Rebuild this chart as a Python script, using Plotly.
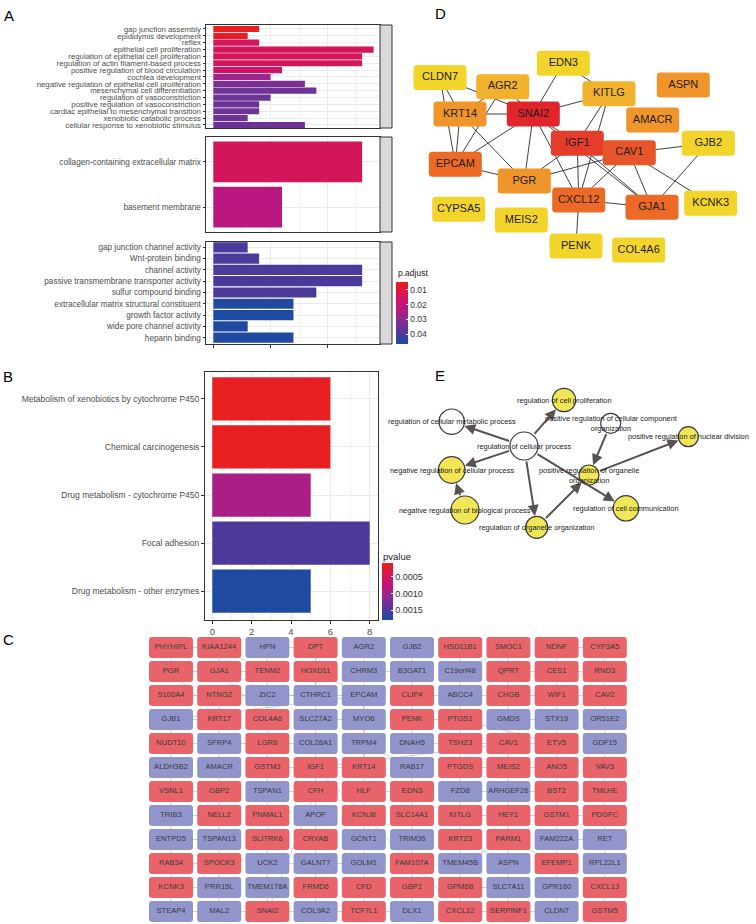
import plotly.graph_objects as go
from plotly.colors import sample_colorscale

W, H = 756, 924
FONT = "Liberation Sans, Arial, sans-serif"

# ---------------- Panel A : GO enrichment ----------------
bp_terms = ["gap junction assembly", "epididymis development", "reflex",
            "epithelial cell proliferation", "regulation of epithelial cell proliferation",
            "regulation of actin filament-based process", "positive regulation of blood circulation",
            "cochlea development", "negative regulation of epithelial cell proliferation",
            "mesenchymal cell differentiation", "regulation of vasoconstriction",
            "positive regulation of vasoconstriction", "cardiac epithelial to mesenchymal transition",
            "xenobiotic catabolic process", "cellular response to xenobiotic stimulus"]
bp_count = [4, 3, 4, 14, 13, 13, 6, 5, 8, 9, 5, 4, 4, 3, 8]
bp_padj = [0.005, 0.006, 0.0148, 0.0148, 0.0148, 0.0148, 0.0165, 0.0278, 0.0328,
           0.035, 0.035, 0.035, 0.035, 0.035, 0.035]

cc_terms = ["collagen-containing extracellular matrix", "basement membrane"]
cc_count = [13, 6]
cc_padj = [0.0148, 0.0223]

mf_terms = ["gap junction channel activity", "Wnt-protein binding", "channel activity",
            "passive transmembrane transporter activity", "sulfur compound binding",
            "extracellular matrix structural constituent", "growth factor activity",
            "wide pore channel activity", "heparin binding"]
mf_count = [3, 4, 13, 13, 9, 7, 7, 3, 7]
mf_padj = [0.040, 0.040, 0.040, 0.040, 0.040, 0.0467, 0.0467, 0.0467, 0.0467]

padj_ticks = [0.01, 0.02, 0.03, 0.04]
padj_range = [0.0047, 0.0467]

# ---------------- Panel B : KEGG ----------------
kegg_terms = ["Metabolism of xenobiotics by cytochrome P450", "Chemical carcinogenesis",
              "Drug metabolism - cytochrome P450", "Focal adhesion",
              "Drug metabolism - other enzymes"]
kegg_count = [6, 6, 5, 8, 5]
kegg_pvalue = [0.0001, 0.0001, 0.00091, 0.00151, 0.0018]
pval_ticks = [0.0005, 0.0010, 0.0015]
pval_ticktext = ["0.0005", "0.0010", "0.0015"]
pval_range = [0.00008, 0.0018]

# ---------------- Panel C : gene network grid ----------------
c_genes = [
    ["PHYHIPL", "KIAA1244", "HPN", "DPT", "AGR2", "GJB2", "HSD11B1", "SMOC1", "NDNF", "CYP3A5"],
    ["PGR", "GJA1", "TENM2", "HOXD11", "CHRM3", "B3GAT1", "C19orf48", "QPRT", "CES1", "RND3"],
    ["S100A4", "NTNG2", "ZIC2", "CTHRC1", "EPCAM", "CLIP4", "ABCC4", "CHGB", "WIF1", "CAV2"],
    ["GJB1", "KRT17", "COL4A6", "SLC27A2", "MYO6", "PENK", "PTGS1", "GMDS", "STX19", "OR51E2"],
    ["NUDT10", "SFRP4", "LGR6", "COL28A1", "TRPM4", "DNAH5", "TSHZ3", "CAV1", "ETV5", "GDF15"],
    ["ALDH3B2", "AMACR", "GSTM3", "IGF1", "KRT14", "RAB17", "PTGDS", "MEIS2", "ANO5", "VAV3"],
    ["VSNL1", "GBP2", "TSPAN1", "CFH", "HLF", "EDN3", "FZD8", "ARHGEF26", "BST2", "TMLHE"],
    ["TRIB3", "NELL2", "PNMAL1", "APOF", "KCNJ8", "SLC14A1", "KITLG", "HEY1", "GSTM1", "PDGFC"],
    ["ENTPD5", "TSPAN13", "SLITRK6", "CRYAB", "GCNT1", "TRIM36", "KRT23", "PARM1", "FAM222A", "RET"],
    ["RAB34", "SPOCK3", "UCK2", "GALNT7", "GOLM1", "FAM107A", "TMEM45B", "ASPN", "EFEMP1", "RPL22L1"],
    ["KCNK3", "PRR15L", "TMEM178A", "FRMD6", "CFD", "GBP1", "GPM6B", "SLC7A11", "GPR160", "CXCL13"],
    ["STEAP4", "MAL2", "SNAI2", "COL9A2", "TCF7L1", "DLX1", "CXCL12", "SERPINF1", "CLDN7", "GSTM5"],
]
c_regulation = [
    "UUDUDDUUUU", "UUUUDDDUUU", "UUDDDUDUUU", "DUUDDUUDDD", "UDUDDDUUUD", "DDUUUDUUUU",
    "UUDUUUDDUU", "DUUDUUUUUU", "DDUUDDUUDD", "UUDDDUDDUD", "UDDUUUUDDU", "DDUDUDUUDU",
]
c_edges = [
    ("PHYHIPL", "PGR"), ("KIAA1244", "GJA1"), ("KIAA1244", "TENM2"), ("HPN", "TENM2"), ("DPT", "HOXD11"),
    ("AGR2", "CHRM3"), ("GJB2", "B3GAT1"), ("HSD11B1", "C19orf48"), ("SMOC1", "QPRT"), ("SMOC1", "C19orf48"),
    ("NDNF", "CES1"), ("CYP3A5", "RND3"), ("NDNF", "CYP3A5"), ("PGR", "GJA1"), ("GJA1", "TENM2"),
    ("TENM2", "ZIC2"), ("HOXD11", "CTHRC1"), ("CHRM3", "EPCAM"), ("B3GAT1", "CLIP4"), ("C19orf48", "ABCC4"),
    ("QPRT", "CHGB"), ("CES1", "WIF1"), ("RND3", "CAV2"), ("S100A4", "NTNG2"), ("NTNG2", "KRT17"),
    ("ZIC2", "COL4A6"), ("CTHRC1", "SLC27A2"), ("EPCAM", "MYO6"), ("CLIP4", "PENK"), ("ABCC4", "PTGS1"),
    ("CHGB", "GMDS"), ("WIF1", "STX19"), ("CAV2", "OR51E2"), ("GJB1", "KRT17"), ("KRT17", "SFRP4"),
    ("COL4A6", "LGR6"), ("SLC27A2", "COL28A1"), ("MYO6", "TRPM4"), ("PENK", "DNAH5"), ("PTGS1", "TSHZ3"),
    ("GMDS", "CAV1"), ("STX19", "ETV5"), ("OR51E2", "GDF15"), ("S100A4", "CTHRC1"), ("GJB1", "EPCAM"),
    ("NUDT10", "ALDH3B2"), ("SFRP4", "AMACR"), ("LGR6", "GSTM3"), ("COL28A1", "IGF1"), ("TRPM4", "KRT14"),
    ("DNAH5", "RAB17"), ("TSHZ3", "PTGDS"), ("CAV1", "MEIS2"), ("ETV5", "ANO5"), ("GDF15", "VAV3"),
    ("ABCC4", "CAV2"), ("PTGS1", "ETV5"), ("ALDH3B2", "VSNL1"), ("AMACR", "GBP2"), ("GSTM3", "TSPAN1"),
    ("IGF1", "CFH"), ("KRT14", "HLF"), ("RAB17", "EDN3"), ("PTGDS", "FZD8"), ("MEIS2", "ARHGEF26"),
    ("ANO5", "BST2"), ("VAV3", "TMLHE"), ("VSNL1", "TRIB3"), ("GBP2", "NELL2"), ("TSPAN1", "PNMAL1"),
    ("CFH", "APOF"), ("HLF", "KCNJ8"), ("EDN3", "SLC14A1"), ("FZD8", "KITLG"), ("ARHGEF26", "HEY1"),
    ("BST2", "GSTM1"), ("TMLHE", "PDGFC"), ("TRIB3", "ENTPD5"), ("NELL2", "TSPAN13"), ("PNMAL1", "SLITRK6"),
    ("APOF", "CRYAB"), ("KCNJ8", "GCNT1"), ("SLC14A1", "TRIM36"), ("KITLG", "KRT23"), ("HEY1", "PARM1"),
    ("GSTM1", "FAM222A"), ("PDGFC", "RET"), ("ENTPD5", "RAB34"), ("TSPAN13", "SPOCK3"), ("SLITRK6", "UCK2"),
    ("CRYAB", "GALNT7"), ("GCNT1", "GOLM1"), ("TRIM36", "FAM107A"), ("KRT23", "TMEM45B"), ("PARM1", "ASPN"),
    ("FAM222A", "EFEMP1"), ("RET", "RPL22L1"), ("RAB34", "KCNK3"), ("SPOCK3", "PRR15L"), ("UCK2", "TMEM178A"),
    ("GALNT7", "FRMD6"), ("GOLM1", "CFD"), ("FAM107A", "GBP1"), ("TMEM45B", "GPM6B"), ("ASPN", "SLC7A11"),
    ("EFEMP1", "GPR160"), ("RPL22L1", "CXCL13"), ("KCNK3", "STEAP4"), ("PRR15L", "MAL2"), ("TMEM178A", "SNAI2"),
    ("FRMD6", "COL9A2"), ("CFD", "TCF7L1"), ("GBP1", "DLX1"), ("GPM6B", "CXCL12"), ("SLC7A11", "SERPINF1"),
    ("GPR160", "CLDN7"), ("CXCL13", "GSTM5"), ("VSNL1", "GBP2"), ("TSPAN1", "CFH"), ("HLF", "EDN3"),
    ("ENTPD5", "TSPAN13"), ("RAB34", "SPOCK3"), ("UCK2", "GALNT7"), ("GALNT7", "GOLM1"), ("KCNK3", "PRR15L"),
    ("STEAP4", "MAL2"), ("MAL2", "SNAI2"), ("SNAI2", "COL9A2"), ("COL9A2", "TCF7L1"), ("TCF7L1", "DLX1"),
    ("CXCL12", "SERPINF1"), ("SERPINF1", "CLDN7"), ("KITLG", "HEY1"), ("HEY1", "GSTM1"), ("GSTM1", "PDGFC"),
    ("PTGDS", "MEIS2"), ("MEIS2", "ANO5"), ("TRIB3", "NELL2"), ("IGF1", "KRT14"), ("GSTM3", "IGF1"),
    ("DNAH5", "TSHZ3"), ("TSHZ3", "CAV1"), ("CAV1", "ETV5"), ("SFRP4", "LGR6"), ("LGR6", "COL28A1"),
    ("CHRM3", "B3GAT1"), ("QPRT", "CES1"), ("CES1", "RND3"), ("HPN", "DPT"), ("PHYHIPL", "KIAA1244"),
    ("GJA1", "COL4A6"), ("SLC27A2", "MYO6"), ("PENK", "PTGS1"), ("GMDS", "STX19"), ("CTHRC1", "EPCAM"),
    ("EPCAM", "KRT14"), ("CAV1", "IGF1"), ("CXCL12", "IGF1"), ("SNAI2", "CFH"), ("KRT23", "ASPN"),
    ("GPM6B", "SLC7A11"), ("FAM222A", "RET"), ("PARM1", "EFEMP1"), ("TMEM45B", "PARM1"), ("ARHGEF26", "BST2"),
    ("FZD8", "ARHGEF26"), ("NUDT10", "SFRP4"), ("GJB1", "NUDT10"), ("ZIC2", "CTHRC1"), ("PGR", "KRT17"),
    ("DPT", "CTHRC1"), ("HOXD11", "EPCAM"), ("CLIP4", "ABCC4"), ("TRPM4", "RAB17"), ("GBP1", "CXCL12"),
]

# ---------------- Panel D : PPI network ----------------
d_genes = ["EDN3", "CLDN7", "AGR2", "KITLG", "ASPN", "KRT14", "SNAI2", "AMACR", "IGF1", "CAV1",
           "GJB2", "EPCAM", "PGR", "CXCL12", "GJA1", "KCNK3", "CYPSA5", "MEIS2", "PENK", "COL4A6"]
d_x = [163.3, 40, 102.7, 209, 283.3, 60, 133.3, 252.7, 177.3, 229.3,
       308.3, 55.3, 124.3, 178.7, 252, 310.7, 58.7, 121.3, 176, 238.7]
d_y = [63.3, 77.5, 86.7, 93.7, 85, 114, 114, 120, 143.3, 152.7,
       143.3, 164.3, 181, 200, 207.3, 203.3, 209.3, 220, 246, 250]
d_score = [1, 1, 2, 2, 3, 3, 5, 3, 4.6, 4.2, 1, 3.8, 3, 3.8, 3.8, 1, 1, 1, 1, 1]
d_edges = [("CLDN7", "KRT14"), ("CLDN7", "SNAI2"), ("AGR2", "KRT14"), ("AGR2", "EPCAM"), ("AGR2", "SNAI2"),
           ("EDN3", "SNAI2"), ("EDN3", "KITLG"), ("KITLG", "SNAI2"), ("KITLG", "IGF1"), ("KITLG", "CXCL12"),
           ("KRT14", "SNAI2"), ("KRT14", "EPCAM"), ("KRT14", "PGR"), ("SNAI2", "EPCAM"), ("SNAI2", "PGR"),
           ("SNAI2", "IGF1"), ("SNAI2", "CXCL12"), ("SNAI2", "GJA1"), ("IGF1", "PGR"), ("IGF1", "CXCL12"),
           ("IGF1", "CAV1"), ("CAV1", "PGR"), ("CAV1", "CXCL12"), ("CAV1", "GJA1"), ("CAV1", "GJB2"),
           ("CAV1", "KCNK3"), ("GJB2", "GJA1"), ("EPCAM", "PGR"), ("CXCL12", "GJA1"), ("CXCL12", "PENK"),
           ("IGF1", "GJA1"), ("CLDN7", "EPCAM")]

# ---------------- Panel E : GO term DAG ----------------
e_terms = ["regulation of cell proliferation", "regulation of cellular metabolic process",
           "regulation of cellular process", "positive regulation of cellular component organization",
           "positive regulation of nuclear division", "negative regulation of cellular process",
           "positive regulation of organelle organization", "negative regulation of biological process",
           "regulation of organelle organization", "regulation of cell communication"]
e_x = [164, 51.7, 124, 210.7, 288.3, 51.7, 189, 65, 136.7, 226]
e_y = [60, 81.7, 106, 83.3, 96.7, 130, 135, 170, 187.3, 168.3]
e_node_size = [11.7, 12.7, 14, 10, 10, 13.3, 10, 14, 11, 12.7]
e_significant = [1, 0, 0, 0, 1, 1, 1, 1, 1, 1]
e_edges = [("regulation of cellular process", "regulation of cellular metabolic process"),
           ("regulation of cellular process", "regulation of cell proliferation"),
           ("regulation of cellular process", "negative regulation of cellular process"),
           ("regulation of cellular process", "regulation of organelle organization"),
           ("regulation of cellular process", "regulation of cell communication"),
           ("negative regulation of biological process", "negative regulation of cellular process"),
           ("positive regulation of cellular component organization", "positive regulation of organelle organization"),
           ("regulation of organelle organization", "positive regulation of organelle organization"),
           ("positive regulation of organelle organization", "positive regulation of nuclear division")]
e_wrap = {"positive regulation of cellular component organization":
          "positive regulation of cellular component<br>organization",
          "positive regulation of organelle organization":
          "positive regulation of organelle<br>organization"}

# ---------------- helpers ----------------
def px(x):
    return x / W

def py(y):
    return 1 - y / H

def rrect(cx, cy, w, h, r):
    x0, x1 = cx - w / 2, cx + w / 2
    y0, y1 = cy - h / 2, cy + h / 2
    return (f"M{x0 + r},{y0} L{x1 - r},{y0} Q{x1},{y0} {x1},{y0 + r} L{x1},{y1 - r} "
            f"Q{x1},{y1} {x1 - r},{y1} L{x0 + r},{y1} Q{x0},{y1} {x0},{y1 - r} "
            f"L{x0},{y0 + r} Q{x0},{y0} {x0 + r},{y0} Z")

# red (small p) -> blue (large p); values are negated so that red sits at the top of the bar
RB = [[0, "#E8201E"], [0.13, "#DE1840"], [0.36, "#C8127A"], [0.6, "#8E2A90"],
      [0.84, "#4B3A9A"], [1, "#1F4AA0"]]
RB_REV = [[1 - t, c] for t, c in reversed(RB)]

def neg(vals):
    return [-v for v in vals]

fig = go.Figure()
shapes = []
annotations = []

# ---------- A bars ----------
facets = [("x", "y", bp_terms, bp_count, bp_padj, 25, 128, 0.58, 0.44, 7.8),
          ("x2", "y2", cc_terms, cc_count, cc_padj, 137, 232, 0.55, 0.55, 8.2),
          ("x3", "y3", mf_terms, mf_count, mf_padj, 242, 344, 0.47, 0.56, 8.2)]
layout_axes = {}
for i, (xa, ya, terms, cnt, pv, top, bot, etop, ebot, fs) in enumerate(facets):
    fig.add_trace(go.Bar(x=cnt, y=terms, orientation="h", width=0.9,
                         marker=dict(color=neg(pv), coloraxis="coloraxis", line=dict(width=0)),
                         xaxis=xa, yaxis=ya, showlegend=False, hoverinfo="skip"))
    xk = "xaxis" if i == 0 else f"xaxis{i + 1}"
    yk = "yaxis" if i == 0 else f"yaxis{i + 1}"
    layout_axes[xk] = dict(domain=[px(206), px(380)], anchor=ya, range=[-0.64, 14.56],
                           tick0=0, dtick=5, showgrid=True, gridcolor="#EBEBEB", gridwidth=1,
                           minor=dict(tick0=0, dtick=2.5, showgrid=True, gridcolor="#F2F2F2", gridwidth=0.7),
                           showline=True, mirror=True, linecolor="#333333", linewidth=1,
                           zeroline=False, showticklabels=False,
                           ticks="outside" if i == 2 else "", ticklen=3, tickcolor="#333333")
    layout_axes[yk] = dict(domain=[py(bot), py(top)], anchor=xa, type="category",
                           categoryorder="array", categoryarray=terms,
                           tickmode="array", tickvals=terms, ticktext=terms,
                           range=[len(terms) - 1 + ebot, -etop],
                           showgrid=True, gridcolor="#EBEBEB", gridwidth=1,
                           showline=True, mirror=True, linecolor="#333333", linewidth=1,
                           zeroline=False, ticks="outside", ticklen=2.5, tickcolor="#333333",
                           tickfont=dict(size=fs, color="#4D4D4D", family=FONT))
    shapes.append(dict(type="rect", xref="paper", yref="paper", x0=px(380), x1=px(392),
                       y0=py(bot), y1=py(top), fillcolor="#D9D9D9",
                       line=dict(color="#333333", width=1), layer="above"))

# ---------- B bars ----------
fig.add_trace(go.Bar(x=kegg_count, y=kegg_terms, orientation="h", width=0.9,
                     marker=dict(color=neg(kegg_pvalue), coloraxis="coloraxis2", line=dict(width=0)),
                     xaxis="x4", yaxis="y4", showlegend=False, hoverinfo="skip"))
layout_axes["xaxis4"] = dict(domain=[px(205), px(378)], anchor="y4", range=[-0.37, 8.42],
                             tick0=0, dtick=2, showgrid=True, gridcolor="#EBEBEB", gridwidth=1,
                             minor=dict(tick0=0, dtick=1, showgrid=True, gridcolor="#F2F2F2", gridwidth=0.7),
                             showline=True, mirror=True, linecolor="#333333", linewidth=1,
                             zeroline=False, ticks="outside", ticklen=3, tickcolor="#333333",
                             tickfont=dict(size=9.5, color="#4D4D4D", family=FONT))
layout_axes["yaxis4"] = dict(domain=[py(620), py(372)], anchor="x4", type="category",
                             categoryorder="array", categoryarray=kegg_terms,
                             tickmode="array", tickvals=kegg_terms, ticktext=kegg_terms,
                             range=[len(kegg_terms) - 1 + 0.6, -0.56],
                             showgrid=True, gridcolor="#EBEBEB", gridwidth=1,
                             showline=True, mirror=True, linecolor="#333333", linewidth=1,
                             zeroline=False, ticks="outside", ticklen=3, tickcolor="#333333",
                             tickfont=dict(size=8.5, color="#4D4D4D", family=FONT))

# ---------- D network ----------
hidden = dict(visible=False, showgrid=False, zeroline=False)
layout_axes["xaxis5"] = dict(domain=[px(400), px(756)], anchor="y5", range=[0, 356], **hidden)
layout_axes["yaxis5"] = dict(domain=[py(320), py(0)], anchor="x5", range=[320, 0], **hidden)
d_pos = {g: (x, y) for g, x, y in zip(d_genes, d_x, d_y)}
for a, b in d_edges:
    shapes.append(dict(type="line", xref="x5", yref="y5", x0=d_pos[a][0], y0=d_pos[a][1],
                       x1=d_pos[b][0], y1=d_pos[b][1], line=dict(color="#2B2B2B", width=0.9),
                       layer="below"))
D_SCALE = [[0, "#F3D42B"], [0.25, "#F2B22D"], [0.5, "#F0952A"], [0.7, "#EC6A25"],
           [0.8, "#E9552A"], [1, "#E2252B"]]
d_cols = sample_colorscale(D_SCALE, [(s - 1) / 4 for s in d_score])
for g, x, y, c in zip(d_genes, d_x, d_y, d_cols):
    shapes.append(dict(type="path", xref="x5", yref="y5", path=rrect(x, y, 53, 25, 3.5),
                       fillcolor=c, line=dict(width=0), layer="below"))
fig.add_trace(go.Scatter(x=d_x, y=d_y, text=d_genes, mode="text", xaxis="x5", yaxis="y5",
                         textfont=dict(size=11, color="#1E1E1E", family=FONT),
                         showlegend=False, hoverinfo="skip", cliponaxis=False))

# ---------- E DAG ----------
layout_axes["xaxis6"] = dict(domain=[px(400), px(756)], anchor="y6", range=[0, 356], **hidden)
layout_axes["yaxis6"] = dict(domain=[py(590), py(340)], anchor="x6", range=[250, 0], **hidden)
e_idx = {t: i for i, t in enumerate(e_terms)}
for t, x, y, r, s in zip(e_terms, e_x, e_y, e_node_size, e_significant):
    shapes.append(dict(type="circle", xref="x6", yref="y6", x0=x - r, x1=x + r, y0=y - r, y1=y + r,
                       fillcolor="#F0E658" if s else "#FFFFFF",
                       line=dict(color="#3A3A3A", width=1.2), layer="above"))
for a, b in e_edges:
    ia, ib = e_idx[a], e_idx[b]
    annotations.append(dict(x=e_x[ib], y=e_y[ib], ax=e_x[ia], ay=e_y[ia],
                            xref="x6", yref="y6", axref="x6", ayref="y6", text="",
                            showarrow=True, arrowhead=2, arrowsize=1.1, arrowwidth=2.0,
                            arrowcolor="#5A5252", standoff=e_node_size[ib] + 0.5,
                            startstandoff=e_node_size[ia]))
for t, x, y in zip(e_terms, e_x, e_y):
    annotations.append(dict(x=x, y=y, xref="x6", yref="y6", text=e_wrap.get(t, t),
                            showarrow=False, font=dict(size=7.4, color="#1A1A1A", family=FONT),
                            xanchor="center", yanchor="middle"))

# ---------- C grid network ----------
layout_axes["xaxis7"] = dict(domain=[px(140), px(660)], anchor="y7", range=[0, 520], **hidden)
layout_axes["yaxis7"] = dict(domain=[py(924), py(625)], anchor="x7", range=[299, 0], **hidden)
COL0, COLP, ROW0, ROWP = 31.0, 48.2, 22.5, 24.0
c_pos = {}
cx_list, cy_list, ct_list = [], [], []
for r, (row, reg) in enumerate(zip(c_genes, c_regulation)):
    for c, g in enumerate(row):
        x, y = COL0 + c * COLP, ROW0 + r * ROWP
        c_pos[g] = (x, y, reg[c])
        cx_list.append(x)
        cy_list.append(y)
        ct_list.append(g)
for a, b in c_edges:
    shapes.append(dict(type="line", xref="x7", yref="y7", x0=c_pos[a][0], y0=c_pos[a][1],
                       x1=c_pos[b][0], y1=c_pos[b][1], line=dict(color="#B3B3B3", width=0.6),
                       layer="below"))
REG_COL = {"U": "#E8646A", "D": "#9195CC"}
for g, (x, y, rg) in c_pos.items():
    shapes.append(dict(type="path", xref="x7", yref="y7", path=rrect(x, y, 44, 21, 3),
                       fillcolor=REG_COL[rg], line=dict(width=0), layer="below"))
fig.add_trace(go.Scatter(x=cx_list, y=cy_list, text=ct_list, mode="text", xaxis="x7", yaxis="y7",
                         textfont=dict(size=7.6, color="#3A3A3A", family=FONT),
                         showlegend=False, hoverinfo="skip", cliponaxis=False))

# ---------- colorbar titles and panel letters ----------
annotations.append(dict(x=px(396), y=py(273), xref="paper", yref="paper", text="p.adjust",
                        showarrow=False, xanchor="left", yanchor="middle",
                        font=dict(size=8.5, color="#222222", family=FONT)))
annotations.append(dict(x=px(381), y=py(556), xref="paper", yref="paper", text="pvalue",
                        showarrow=False, xanchor="left", yanchor="middle",
                        font=dict(size=9.5, color="#222222", family=FONT)))
for lab, x, y in [("A", 9, 15), ("B", 8, 376), ("C", 8, 639), ("D", 440, 14), ("E", 440, 375)]:
    annotations.append(dict(x=px(x), y=py(y), xref="paper", yref="paper", text=lab,
                            showarrow=False, xanchor="center", yanchor="middle",
                            font=dict(size=15, color="#000000", family=FONT)))

fig.update_layout(
    width=W, height=H, margin=dict(l=0, r=0, t=0, b=0), template="none",
    paper_bgcolor="white", plot_bgcolor="rgba(0,0,0,0)",
    font=dict(family=FONT, color="#333333"),
    barmode="overlay", showlegend=False,
    coloraxis=dict(colorscale=RB_REV, cmin=-padj_range[1], cmax=-padj_range[0],
                   colorbar=dict(x=px(396), xanchor="left", y=py(282), yanchor="top",
                                 len=62, lenmode="pixels", thickness=12, thicknessmode="pixels",
                                 outlinewidth=0, xpad=0, ypad=0, title=dict(text=""),
                                 tickvals=neg(padj_ticks), ticktext=[f"{v:.2f}" for v in padj_ticks],
                                 ticks="inside", ticklen=2, tickcolor="white",
                                 tickfont=dict(size=8.5, color="#333333", family=FONT))),
    coloraxis2=dict(colorscale=RB_REV, cmin=-pval_range[1], cmax=-pval_range[0],
                    colorbar=dict(x=px(382), xanchor="left", y=py(563), yanchor="top",
                                  len=57, lenmode="pixels", thickness=11, thicknessmode="pixels",
                                  outlinewidth=0, xpad=0, ypad=0, title=dict(text=""),
                                  tickvals=neg(pval_ticks), ticktext=pval_ticktext,
                                  ticks="inside", ticklen=2, tickcolor="white",
                                  tickfont=dict(size=9, color="#333333", family=FONT))),
    shapes=shapes, annotations=annotations,
    **layout_axes,
)

fig.write_html("out.html", config={"displayModeBar": False},
               post_script="document.body.style.margin='0';document.body.style.padding='0';")
